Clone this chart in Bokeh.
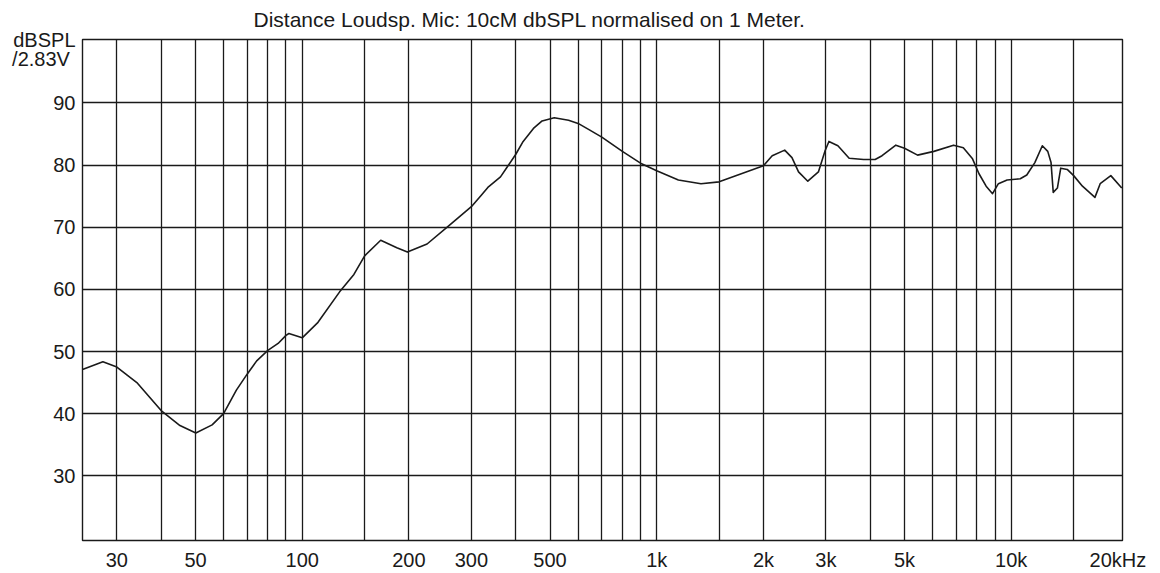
from bokeh.plotting import figure
from bokeh.models import FixedTicker, Range1d
from bokeh.embed import file_html
from bokeh.resources import INLINE

# ---- data ----
freq_hz = [24, 27.4, 30, 34.3, 40, 45.2, 50.1, 55.7, 60, 65.2, 70, 74.4, 80, 85.5, 90,
           91.7, 100, 110.8, 127.5, 139.9, 150, 166.5, 184.9, 198, 225, 257.4, 300, 320.4,
           333.9, 362.5, 377.8, 400, 420, 449, 475, 514, 564, 600, 644, 700, 800, 900, 1000,
           1151, 1333, 1500, 1732, 2000, 2117, 2296, 2407, 2512, 2668, 2858, 2985, 3060, 3244,
           3490, 3834, 4131, 4321, 4726, 5000, 5443, 6050, 6876, 7326, 7777, 8112, 8496, 8857,
           9200, 9734, 10604, 11062, 11657, 12237, 12677, 12951, 13137, 13496, 13792, 14385,
           15000, 15882, 17223, 17820, 19095, 20500]
spl_db = [47.1, 48.35, 47.5, 44.9, 40.5, 38.1, 36.9, 38.2, 40.0, 43.8, 46.4, 48.5, 50.2, 51.3, 52.6,
          52.9, 52.2, 54.7, 59.6, 62.4, 65.4, 67.9, 66.7, 66.0, 67.3, 70.1, 73.3, 75.2,
          76.4, 78.1, 79.6, 81.7, 83.8, 85.9, 87.1, 87.6, 87.2, 86.7, 85.7, 84.5, 82.2, 80.3, 79.1,
          77.6, 77.0, 77.3, 78.6, 79.9, 81.5, 82.4, 81.2, 78.9, 77.4, 78.9, 82.3, 83.8, 83.1,
          81.1, 80.9, 80.9, 81.5, 83.2, 82.7, 81.6, 82.2, 83.2, 82.8, 81.0, 78.6, 76.6, 75.4,
          77.0, 77.6, 77.8, 78.4, 80.4, 83.1, 82.2, 80.4, 75.6, 76.3, 79.5, 79.3,
          78.3, 76.6, 74.8, 77.0, 78.3, 76.3]

x_tick_values = [30, 50, 100, 200, 300, 500, 1000, 2000, 3000, 5000, 10000, 20000]
x_tick_labels = ["30", "50", "100", "200", "300", "500", "1k", "2k", "3k", "5k", "10k", "20kHz"]
x_grid_values = [30, 40, 50, 60, 70, 80, 90, 100, 150, 200, 300, 400, 500, 600, 700, 800, 900,
                 1000, 1500, 2000, 3000, 4000, 5000, 6000, 7000, 8000, 9000, 10000, 15000]
y_tick_values = [30, 40, 50, 60, 70, 80, 90]
y_unit_positions = [100.15, 97.0]
y_unit_lines = ["dBSPL", "/2.83V "]
title_text = "Distance Loudsp. Mic:  10cM dbSPL normalised on 1 Meter."

FONT = "Liberation Sans"
INK = "#1a1a1a"
X0, X1 = 24, 20600
Y0, Y1 = 19.6, 100.2

p = figure(width=1160, height=573, x_axis_type="log", output_backend="svg",
           toolbar_location=None, x_range=Range1d(X0, X1), y_range=Range1d(Y0, Y1),
           min_border_left=82, min_border_right=38, min_border_top=39, min_border_bottom=31)
p.background_fill_color = "white"
p.border_fill_color = "white"
p.outline_line_color = INK
p.outline_line_width = 1.4

# title
p.title.text = title_text
p.title.align = "left"
p.title.offset = 171
p.title.text_font = FONT
p.title.text_font_size = "21px"
p.title.text_font_style = "normal"
p.title.text_color = INK
p.title.vertical_align = "top"
p.title.standoff = 14

# grids
p.xgrid.ticker = FixedTicker(ticks=x_grid_values)
p.ygrid.ticker = FixedTicker(ticks=y_tick_values)
for g in (p.xgrid, p.ygrid):
    g.grid_line_color = INK
    g.grid_line_width = 1.3
    g.grid_line_alpha = 1.0

# axes
p.xaxis.ticker = FixedTicker(ticks=x_tick_values)
p.xaxis.major_label_overrides = {v: s for v, s in zip(x_tick_values, x_tick_labels)}
p.yaxis.ticker = FixedTicker(ticks=y_tick_values + y_unit_positions)
y_over = {v: str(v) for v in y_tick_values}
y_over.update({v: s for v, s in zip(y_unit_positions, y_unit_lines)})
p.yaxis.major_label_overrides = y_over
for ax in (p.xaxis, p.yaxis):
    ax.axis_line_color = None
    ax.major_tick_line_color = None
    ax.minor_tick_line_color = None
    ax.major_tick_out = 0
    ax.major_tick_in = 0
    ax.major_label_text_font = FONT
    ax.major_label_text_font_size = "20px"
    ax.major_label_text_color = INK
p.xaxis.major_label_standoff = 8
p.yaxis.major_label_standoff = 7

# curve
p.line(freq_hz, spl_db, line_color=INK, line_width=1.6, line_join="round")

open("out.html", "w").write(file_html(p, INLINE))
